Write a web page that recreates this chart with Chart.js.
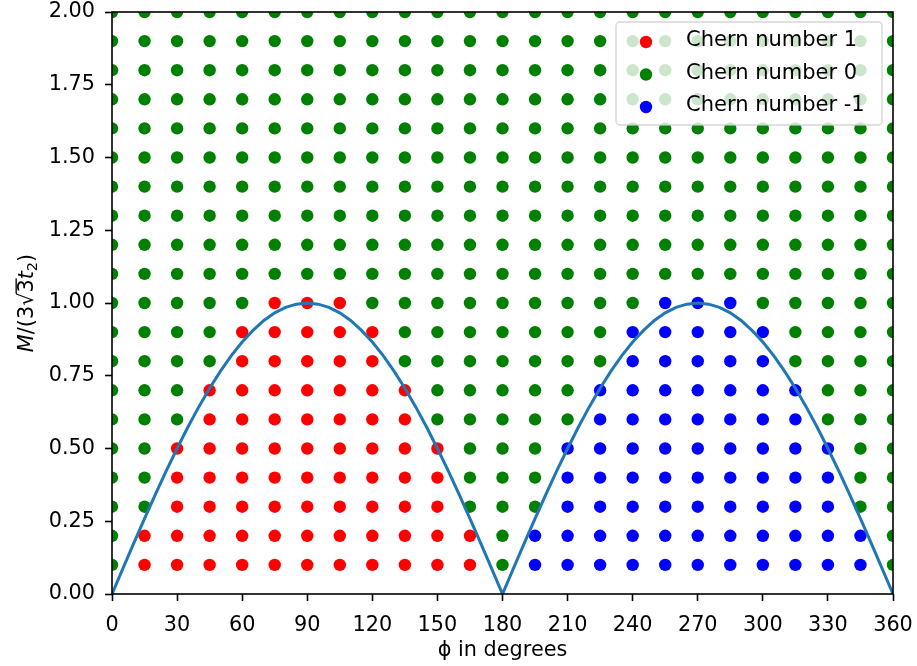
<!DOCTYPE html>
<html>
<head>
<meta charset="utf-8">
<script src="https://cdn.jsdelivr.net/npm/chart.js@4.4.1/dist/chart.umd.min.js"></script>
<style>
	html, body { margin: 0; padding: 0; background: #ffffff; }
</style>
</head>
<body>
<canvas id="chernplot" width="917" height="666"></canvas>
<script>
const phiValues = [0, 15, 30, 45, 60, 75, 90, 105, 120, 135, 150, 165, 180, 195, 210, 225, 240, 255, 270, 285, 300, 315, 330, 345, 360]; // phi grid (degrees)
const mValues = [0.1, 0.2, 0.3, 0.4, 0.5, 0.6, 0.7, 0.8, 0.9, 1.0, 1.1, 1.2, 1.3, 1.4, 1.5, 1.6, 1.7, 1.8, 1.9, 2.0]; // M grid in units of 3*sqrt(3)*t2
const columnChern = [0, 1, 1, 1, 1, 1, 1, 1, 1, 1, 1, 1, 0, -1, -1, -1, -1, -1, -1, -1, -1, -1, -1, -1, 0]; // Chern number of the lower part of each column
const columnTop = [0, 0.2, 0.5, 0.7, 0.9, 1.0, 1.0, 1.0, 0.9, 0.7, 0.5, 0.2, 0, 0.2, 0.5, 0.7, 0.9, 1.0, 1.0, 1.0, 0.9, 0.7, 0.5, 0.2, 0]; // highest M still non-trivial
// Phase boundary curve, read every 5 degrees
const boundaryPhi = [0, 5, 10, 15, 20, 25, 30, 35, 40, 45, 50, 55, 60, 65, 70, 75, 80, 85, 90, 95, 100, 105, 110, 115, 120, 125, 130, 135, 140, 145, 150, 155, 160, 165, 170, 175, 180,
	185, 190, 195, 200, 205, 210, 215, 220, 225, 230, 235, 240, 245, 250, 255, 260, 265, 270, 275, 280, 285, 290, 295, 300, 305, 310, 315, 320, 325, 330, 335, 340, 345, 350, 355, 360];
const boundaryM = [0, 0.087, 0.174, 0.259, 0.342, 0.423, 0.5, 0.574, 0.643, 0.707, 0.766, 0.819, 0.866, 0.906, 0.940, 0.966, 0.985, 0.996, 1.0, 0.996, 0.985, 0.966, 0.940, 0.906, 0.866, 0.819, 0.766, 0.707, 0.643, 0.574, 0.5, 0.423, 0.342, 0.259, 0.174, 0.087, 0,
	0.087, 0.174, 0.259, 0.342, 0.423, 0.5, 0.574, 0.643, 0.707, 0.766, 0.819, 0.866, 0.906, 0.940, 0.966, 0.985, 0.996, 1.0, 0.996, 0.985, 0.966, 0.940, 0.906, 0.866, 0.819, 0.766, 0.707, 0.643, 0.574, 0.5, 0.423, 0.342, 0.259, 0.174, 0.087, 0];
const chernNumbers = [1, 0, -1];
const chernLabels = ['Chern number 1', 'Chern number 0', 'Chern number -1'];
const chernColors = ['#ff0000', '#008000', '#0000ff'];
const curveColor = '#1f77b4';
const fontName = "'DejaVu Sans'";
const fontSize = 20.8;
Chart.defaults.font.family = "'DejaVu Sans', sans-serif";
Chart.defaults.color = '#000000';

// Sort grid points by Chern number
let pointsByChern = {};
chernNumbers.forEach(c => pointsByChern[c] = []);
phiValues.forEach(function (phi, i) {
	mValues.forEach(function (m) {
		let c = (columnChern[i] != 0 && m <= columnTop[i] + 1e-9) ? columnChern[i] : 0;
		pointsByChern[c].push({x: phi, y: m});
	});
});

let datasets = [{
	label: 'boundary',
	data: boundaryPhi.map((p, i) => ({x: p, y: boundaryM[i]})),
	showLine: true,
	borderColor: curveColor,
	borderWidth: 3,
	pointRadius: 0,
	tension: 0,
	clip: 0,
	order: 0
}];
chernNumbers.forEach(function (c, i) {
	datasets.push({
		label: chernLabels[i],
		data: pointsByChern[c],
		backgroundColor: chernColors[i],
		pointRadius: 6.2,
		pointBorderWidth: 0,
		clip: 0,
		order: 1
	});
});

// Black box round the axes, like matplotlib spines
const framePlugin = {
	id: 'frame',
	afterDatasetsDraw(chart) {
		const ca = chart.chartArea, ctx = chart.ctx;
		ctx.save();
		ctx.strokeStyle = '#000000';
		ctx.lineWidth = 1.6;
		ctx.strokeRect(ca.left, ca.top, ca.right - ca.left, ca.bottom - ca.top);
		ctx.restore();
	}
};

// Legend box in the upper right corner of the axes
const legendPlugin = {
	id: 'boxLegend',
	afterDraw(chart) {
		const ca = chart.chartArea, ctx = chart.ctx;
		const w = 266, h = 103;
		const left = ca.right - 11 - w, top = ca.top + 10;
		ctx.save();
		ctx.beginPath();
		ctx.roundRect(left, top, w, h, 4);
		ctx.fillStyle = 'rgba(255,255,255,0.8)';
		ctx.fill();
		ctx.strokeStyle = 'rgba(204,204,204,0.8)';
		ctx.lineWidth = 1.4;
		ctx.stroke();
		ctx.font = '21px ' + fontName;
		ctx.textBaseline = 'middle';
		ctx.textAlign = 'left';
		chart.data.datasets.forEach(function (ds, i) {
			if (i == 0) return;
			let y = top + 20 + (i - 1) * 32.5;
			ctx.beginPath();
			ctx.arc(left + 30, y, 6.2, 0, 2 * Math.PI);
			ctx.fillStyle = ds.backgroundColor;
			ctx.fill();
			ctx.fillStyle = '#000000';
			ctx.fillText(ds.label, left + 70, y - 1);
		});
		ctx.restore();
	}
};

// y-axis label M/(3 sqrt(3) t_2), drawn piece by piece
const yTitlePlugin = {
	id: 'yTitle',
	afterDraw(chart) {
		const ca = chart.chartArea, ctx = chart.ctx;
		const normal = fontSize + 'px ' + fontName, italic = 'italic ' + fontSize + 'px ' + fontName, small = '14.5px ' + fontName;
		const pieces = [
			{t: 'M', f: italic, dy: 0},
			{t: '/(3', f: normal, dy: 0},
			{t: '\u221A', f: normal, dy: 0},
			{t: '3', f: normal, dy: 0, bar: true},
			{t: 't', f: italic, dy: 0},
			{t: '2', f: small, dy: 4},
			{t: ')', f: normal, dy: 0}
		];
		let total = 0;
		pieces.forEach(function (p) {
			ctx.font = p.f;
			p.w = ctx.measureText(p.t).width;
			total += p.w;
		});
		ctx.save();
		ctx.translate(33, (ca.top + ca.bottom) / 2);
		ctx.rotate(-Math.PI / 2);
		ctx.fillStyle = '#000000';
		ctx.textBaseline = 'alphabetic';
		ctx.textAlign = 'left';
		let u = -total / 2;
		pieces.forEach(function (p) {
			ctx.font = p.f;
			ctx.fillText(p.t, u, p.dy);
			if (p.bar) {
				ctx.fillRect(u - 1, -17.5, p.w + 2, 1.3);
			}
			u += p.w;
		});
		ctx.restore();
	}
};

new Chart('chernplot', {
	type: 'scatter',
	data: { datasets: datasets },
	plugins: [framePlugin, legendPlugin, yTitlePlugin],
	options: {
		responsive: false,
		animation: false,
		events: [],
		layout: { padding: { left: 0, right: 24, top: 12, bottom: 0 } },
		plugins: {
			legend: { display: false },
			tooltip: { enabled: false }
		},
		scales: {
			x: {
				type: 'linear',
				min: 0,
				max: 360,
				afterFit: s => { s.height = 72; s.paddingLeft = 0; s.paddingRight = 0; },
				ticks: {
					stepSize: 30,
					autoSkip: false,
					maxRotation: 0,
					padding: 12,
					font: { size: fontSize },
					color: '#000000'
				},
				grid: {
					drawOnChartArea: false,
					drawTicks: true,
					tickLength: 7,
					tickWidth: 1.6,
					tickColor: '#000000'
				},
				border: { display: false },
				title: {
					display: true,
					text: '\u03D5 in degrees',
					font: { size: fontSize },
					color: '#000000',
					padding: { top: 0, bottom: 3 }
				}
			},
			y: {
				type: 'linear',
				min: 0,
				max: 2,
				afterFit: s => { s.width = 112; s.paddingTop = 0; s.paddingBottom = 0; },
				ticks: {
					stepSize: 0.25,
					padding: 10,
					font: { size: fontSize },
					color: '#000000',
					callback: v => v.toFixed(2)
				},
				grid: {
					drawOnChartArea: false,
					drawTicks: true,
					tickLength: 7,
					tickWidth: 1.6,
					tickColor: '#000000'
				},
				border: { display: false }
			}
		}
	}
});
</script>
</body>
</html>
